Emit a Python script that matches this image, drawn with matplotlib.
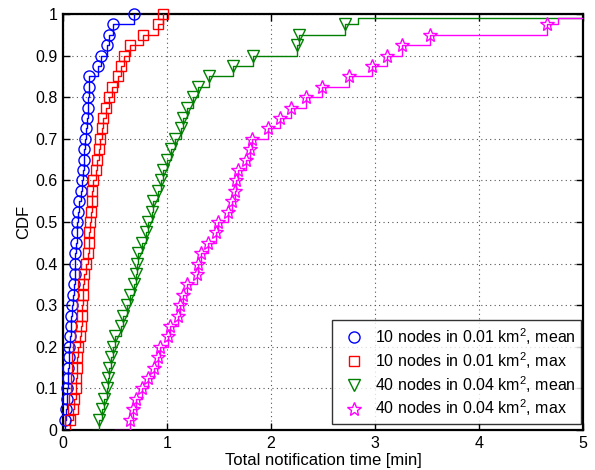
import matplotlib
matplotlib.use("Agg")
import matplotlib.pyplot as plt
import numpy as np

plt.rcParams['font.family'] = ['Liberation Sans', 'DejaVu Sans']
plt.rcParams['mathtext.fontset'] = 'custom'
plt.rcParams['mathtext.rm'] = 'Liberation Sans'
plt.rcParams['mathtext.it'] = 'Liberation Sans'

# CDF levels of the marked samples (k/40)
levels = [k / 40 for k in range(1, 41)]

# sorted sample values [min]
mean10 = [0.022, 0.032, 0.038, 0.042, 0.051, 0.051, 0.058, 0.061, 0.067, 0.074,
          0.077, 0.083, 0.099, 0.106, 0.115, 0.115, 0.115, 0.125, 0.133, 0.138,
          0.147, 0.157, 0.170, 0.180, 0.189, 0.202, 0.206, 0.212, 0.221, 0.228,
          0.237, 0.243, 0.250, 0.253, 0.340, 0.362, 0.420, 0.442, 0.484, 0.683]
max10 = [0.067, 0.099, 0.106, 0.122, 0.125, 0.138, 0.138, 0.147, 0.163, 0.170,
         0.180, 0.180, 0.189, 0.195, 0.202, 0.221, 0.237, 0.245, 0.253, 0.260,
         0.269, 0.276, 0.282, 0.285, 0.314, 0.330, 0.346, 0.356, 0.378, 0.388,
         0.413, 0.442, 0.468, 0.532, 0.558, 0.590, 0.644, 0.772, 0.917, 0.965]
mean40 = [0.349, 0.372, 0.394, 0.420, 0.430, 0.445, 0.459, 0.478, 0.500, 0.555,
          0.580, 0.612, 0.644, 0.683, 0.702, 0.715, 0.718, 0.757, 0.800, 0.820,
          0.853, 0.868, 0.917, 0.939, 0.965, 0.997, 1.036, 1.077, 1.131, 1.157,
          1.189, 1.247, 1.300, 1.407, 1.638, 1.830, 2.247, 2.270, 2.710]
max40 = [0.640, 0.668, 0.705, 0.755, 0.815, 0.870, 0.915, 0.930, 1.010, 1.030,
         1.109, 1.125, 1.157, 1.189, 1.285, 1.300, 1.327, 1.391, 1.470, 1.490,
         1.590, 1.620, 1.650, 1.660, 1.680, 1.760, 1.800, 1.820, 1.970, 2.090,
         2.190, 2.340, 2.490, 2.750, 2.970, 3.110, 3.260, 3.530, 4.650]

# where each step line starts at CDF = 0
starts = [0.02, 0.067, 0.29, 0.50]
# last step of the curves that do not reach 1 inside the plotted range
tail_x = [None, None, 2.84, 4.76]
tail_y = 0.99

labels = ['10 nodes in 0.01 km$^2$, mean', '10 nodes in 0.01 km$^2$, max',
          '40 nodes in 0.04 km$^2$, mean', '40 nodes in 0.04 km$^2$, max']
colors = ['#0000ff', '#ff0000', '#008000', '#ff00ff']
markers = ['o', 's', 'v', '*']
msizes = [8, 7, 9, 10]

fig = plt.figure(figsize=(5.95, 4.7), dpi=100)
ax = fig.add_axes([0.106, 0.085, 0.874, 0.885])

series = [mean10, max10, mean40, max40]
handles = []
for i, xs in enumerate(series):
    ys = levels[:len(xs)]
    lx = [starts[i]] + list(xs)
    ly = [0.0] + list(ys)
    if tail_x[i] is not None:
        lx += [tail_x[i], 5.0]
        ly += [tail_y, tail_y]
    ax.step(lx, ly, where='post', color=colors[i], lw=1.0, zorder=3)
    h, = ax.plot(xs, ys, linestyle='none', marker=markers[i], ms=msizes[i],
                 mfc='none', mec=colors[i], mew=1.0, color=colors[i],
                 zorder=4, label=labels[i], clip_on=False)
    handles.append(h)

ax.set_xlim(0, 5)
ax.set_ylim(0, 1)
ax.set_xticks(range(0, 6))
ax.set_xticklabels([str(v) for v in range(0, 6)])
yt = [k / 10 for k in range(11)]
ax.set_yticks(yt)
ax.set_yticklabels(['0', '0.1', '0.2', '0.3', '0.4', '0.5', '0.6', '0.7',
                    '0.8', '0.9', '1'])
ax.tick_params(direction='in', top=True, right=True, length=5, width=1,
               labelsize=11.5, pad=4)
ax.grid(True, linestyle=(0, (1, 3)), color='#555555', linewidth=0.8)
for s in ax.spines.values():
    s.set_linewidth(1.6)
ax.set_xlabel('Total notification time [min]', fontsize=12, labelpad=2)
ax.set_ylabel('CDF', fontsize=12, labelpad=3)

leg = ax.legend(handles=handles, loc='lower right', fontsize=11.5,
                bbox_to_anchor=(1 - 2 / 520, 6 / 416),
                frameon=True, fancybox=False, edgecolor='black',
                borderaxespad=0.0, handletextpad=0.3, handlelength=2.0,
                labelspacing=0.2, borderpad=0.35, numpoints=1)
leg.get_frame().set_linewidth(1.0)

fig.savefig('out.png', dpi=100)
